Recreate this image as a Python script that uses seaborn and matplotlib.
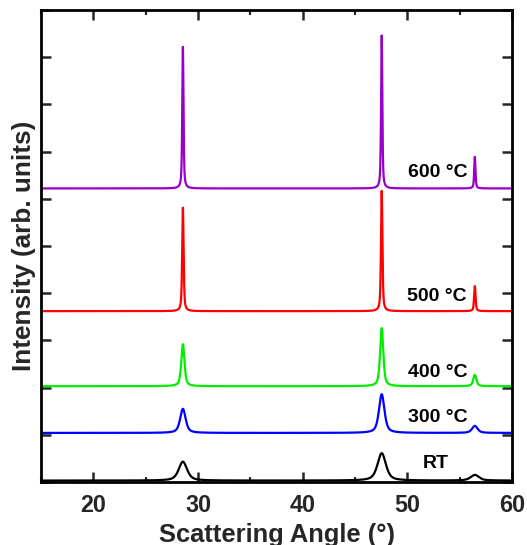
import numpy as np
import pandas as pd
import matplotlib
matplotlib.use("Agg")
import matplotlib.pyplot as plt
import seaborn as sns
from matplotlib.ticker import MultipleLocator, NullFormatter

# Patterns, bottom to top
labels = ["RT", "300 °C", "400 °C", "500 °C", "600 °C"]
colors = ["#000000", "#0000FF", "#00EE00", "#FF0000", "#9900CC"]
# Vertical offset of each pattern's background
baselines = [0.03, 1.04, 2.03, 3.62, 6.22]
# Reflection positions (2θ, degrees)
peak_pos = [28.55, 47.55, 56.45]
# Peak heights above background for each pattern, one value per reflection
peak_heights = [
    [0.40, 0.58, 0.12],   # RT
    [0.51, 0.82, 0.15],   # 300 °C
    [0.89, 1.23, 0.24],   # 400 °C
    [2.19, 2.55, 0.53],   # 500 °C
    [3.00, 3.24, 0.67],   # 600 °C
]
# Peak widths (FWHM, degrees) for each pattern
peak_fwhm = [0.95, 0.62, 0.36, 0.16, 0.14]
# Label anchor (right edge x, centre y) for each pattern
label_x = [54.0, 55.8, 55.75, 55.7, 55.75]
label_y = [0.40, 1.36, 2.33, 3.94, 6.55]

two_theta = np.linspace(15, 60, 4501)


def profile(x, centres, heights, fwhm):
    """Pseudo-Voigt sum of reflections on a flat background."""
    y = np.zeros_like(x)
    g = fwhm / 2
    for c, h in zip(centres, heights):
        lor = 1.0 / (1.0 + ((x - c) / g) ** 2)
        gau = np.exp(-np.log(2) * ((x - c) / g) ** 2)
        y += h * (0.6 * lor + 0.4 * gau)
    return y


frames = []
for lab, base, hts, w in zip(labels, baselines, peak_heights, peak_fwhm):
    frames.append(pd.DataFrame({
        "angle": two_theta,
        "intensity": base + profile(two_theta, peak_pos, hts, w),
        "sample": lab,
    }))
df = pd.concat(frames, ignore_index=True)

sns.set_theme(style="ticks")
plt.rcParams["font.family"] = ["Liberation Sans", "DejaVu Sans"]
plt.rcParams["font.weight"] = "bold"

fig = plt.figure(figsize=(5.27, 5.45), dpi=100)
ax = fig.add_axes([0.078, 0.1156, 0.8935, 0.866])

sns.lineplot(data=df, x="angle", y="intensity", hue="sample",
             hue_order=labels, palette=colors, linewidth=1.6,
             legend=False, ax=ax, estimator=None, sort=False)

for lab, lx, ly in zip(labels, label_x, label_y):
    ax.text(lx, ly, lab, ha="right", va="center", fontsize=14,
            fontweight="bold", color="black")

ax.set_xlim(15, 60)
ax.set_ylim(0, 10)
ax.xaxis.set_major_locator(MultipleLocator(10))
ax.xaxis.set_minor_locator(MultipleLocator(5))
ax.yaxis.set_major_locator(MultipleLocator(1))
ax.yaxis.set_major_formatter(NullFormatter())

ax.tick_params(axis="both", which="major", direction="in", length=7,
               width=1.8, top=True, right=True)
ax.tick_params(axis="x", which="major", labelsize=16.8, pad=9)
ax.tick_params(axis="x", which="minor", direction="in", length=3.5,
               width=1.5, top=True)
for lbl in ax.get_xticklabels():
    lbl.set_fontweight("bold")
for sp in ax.spines.values():
    sp.set_linewidth(2.0)
    sp.set_color("black")

ax.set_xlabel("Scattering Angle (°)", fontsize=18.4, fontweight="bold", labelpad=4)
ax.set_ylabel("Intensity (arb. units)", fontsize=18.8, fontweight="bold")
ax.yaxis.set_label_coords(-0.011, 0.5)

fig.savefig("out.png", dpi=100)
